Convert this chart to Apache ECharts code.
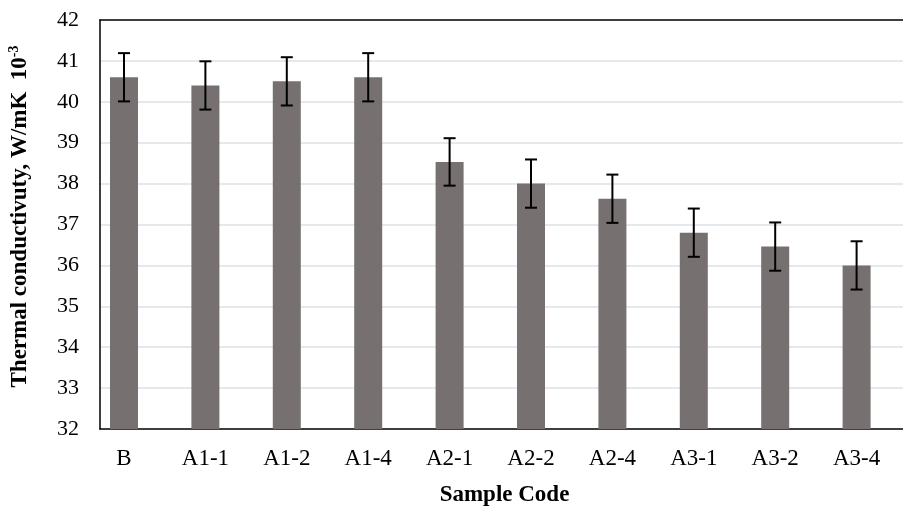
<!DOCTYPE html>
<html>
<head>
<meta charset="utf-8">
<script src="https://cdn.jsdelivr.net/npm/echarts@6/dist/echarts.min.js"></script>
<style>html,body{margin:0;padding:0;background:#fff;}#c{width:903px;height:507px;}</style>
</head>
<body>
<div id="c"></div>
<script>
var categories = ['B', 'A1-1', 'A1-2', 'A1-4', 'A2-1', 'A2-2', 'A2-4', 'A3-1', 'A3-2', 'A3-4'];
var values = [40.6, 40.4, 40.5, 40.6, 38.53, 38.0, 37.63, 36.8, 36.46, 36.0];
var errors = [0.59, 0.59, 0.59, 0.59, 0.58, 0.59, 0.59, 0.59, 0.59, 0.59];
var yMin = 32, yMax = 42, yStep = 1;

var font = 'Liberation Serif, Times New Roman, serif';
var errData = values.map(function (v, i) { return [i, v - errors[i], v + errors[i]]; });

var chart = echarts.init(document.getElementById('c'));
chart.setOption({
  animation: false,
  backgroundColor: '#fff',
  grid: [
    { left: 100, top: 20, bottom: 78, right: -6, outerBoundsMode: 'none', containLabel: false },
    { left: 83.3, top: 20, bottom: 78, right: 5.7, outerBoundsMode: 'none', containLabel: false }
  ],
  xAxis: [
    { gridIndex: 0, type: 'value', min: 0, max: 1, position: 'bottom',
      axisLine: { show: true, onZero: false, lineStyle: { color: '#000', width: 1.5 } },
      axisTick: { show: false }, axisLabel: { show: false }, splitLine: { show: false },
      name: 'Sample Code', nameLocation: 'middle', nameGap: 55,
      nameTextStyle: { fontFamily: font, fontWeight: 'bold', fontSize: 23, color: '#000' } },
    { gridIndex: 0, type: 'value', min: 0, max: 1, position: 'top',
      axisLine: { show: true, onZero: false, lineStyle: { color: '#000', width: 1.5 } },
      axisTick: { show: false }, axisLabel: { show: false }, splitLine: { show: false } },
    { gridIndex: 1, type: 'category', data: categories,
      axisLine: { show: false }, axisTick: { show: false },
      axisLabel: { fontFamily: font, fontSize: 23, color: '#000', margin: 18 } }
  ],
  yAxis: [
    { gridIndex: 0, type: 'value', min: yMin, max: yMax, interval: yStep,
      axisLine: { show: true, onZero: false, lineStyle: { color: '#000', width: 1.5 } },
      axisTick: { show: false },
      axisLabel: { fontFamily: font, fontSize: 22, color: '#000', margin: 21 },
      splitLine: { show: true, showMinLine: false, showMaxLine: false, lineStyle: { color: '#dde1e6', width: 1.5 } },
      name: '{a|Thermal conductivuty, W/mK  10}{b|-3}', nameLocation: 'middle', nameGap: 67,
      nameTextStyle: { padding: [0, 0, 0, 16], rich: {
        a: { fontFamily: font, fontWeight: 'bold', fontSize: 23, color: '#000', lineHeight: 26 },
        b: { fontFamily: font, fontWeight: 'bold', fontSize: 14, color: '#000', verticalAlign: 'top', lineHeight: 26 }
      } } },
    { gridIndex: 1, type: 'value', min: yMin, max: yMax, interval: yStep, show: false }
  ],
  series: [
    { type: 'bar', xAxisIndex: 2, yAxisIndex: 1, data: values, barWidth: 28,
      itemStyle: { color: '#767170' }, z: 2 },
    { type: 'custom', xAxisIndex: 2, yAxisIndex: 1, data: errData, z: 3,
      renderItem: function (params, api) {
        var x = api.value(0);
        var lo = api.coord([x, api.value(1)]);
        var hi = api.coord([x, api.value(2)]);
        var hw = 6;
        var st = { stroke: '#000', lineWidth: 2 };
        return { type: 'group', children: [
          { type: 'line', shape: { x1: lo[0], y1: lo[1], x2: hi[0], y2: hi[1] }, style: st },
          { type: 'line', shape: { x1: lo[0] - hw, y1: lo[1], x2: lo[0] + hw, y2: lo[1] }, style: st },
          { type: 'line', shape: { x1: hi[0] - hw, y1: hi[1], x2: hi[0] + hw, y2: hi[1] }, style: st }
        ] };
      } }
  ]
});
</script>
</body>
</html>
